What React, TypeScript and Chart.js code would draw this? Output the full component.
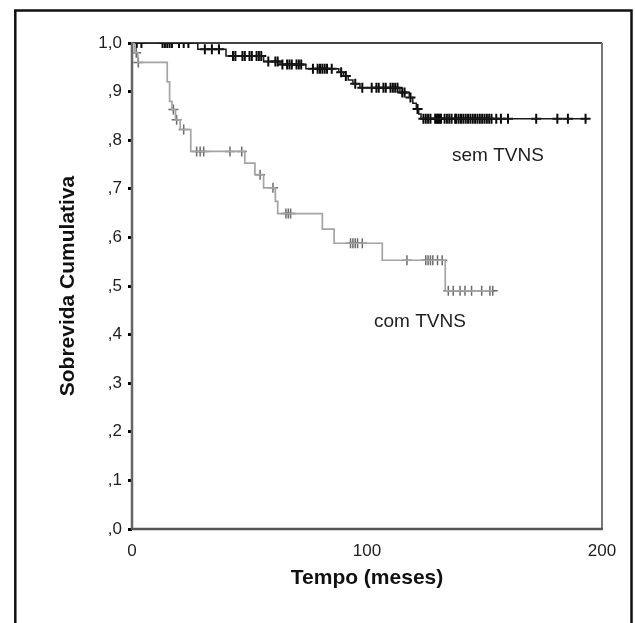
import React, { useEffect, useRef } from "react";
import { Chart, registerables } from "chart.js";

Chart.register(...registerables);

// sem TVNS: event times (months) and cumulative survival after each event
const semEventTimes = [0, 28, 40, 56, 63, 74, 88, 90, 92, 94, 97, 114, 118, 119.5, 121, 122, 123];
const semSurvival = [1.0, 0.987, 0.973, 0.962, 0.956, 0.947, 0.94, 0.932, 0.924, 0.916, 0.908, 0.898, 0.888, 0.876, 0.864, 0.854, 0.844];
const semCensored = [
  2, 4, 13, 14, 15, 16, 17, 20, 22, 24, 31, 34, 37, 43, 44, 47, 48, 50, 51, 53, 54, 55,
  58, 61, 62, 64, 66, 67, 68, 70, 71, 72, 77, 79, 80, 81, 82, 83, 85, 89, 91, 95, 98,
  102, 104, 105, 107, 108, 110, 111, 112, 113, 115, 116, 118.5, 121.5, 124, 125, 126,
  127, 129, 129.5, 130, 130.5, 131, 131.5, 133, 134, 135, 136, 137.5, 138, 139, 140,
  141, 142, 143, 144, 145, 146, 147, 148, 149, 150, 151, 152, 153, 155, 157, 160, 172,
  181, 185.5, 193,
];

// com TVNS
const comEventTimes = [0, 1, 2.5, 15, 16, 17, 18.5, 20.5, 25, 48, 52.3, 56, 61, 62, 81, 86, 106.5, 133.3];
const comSurvival = [1.0, 0.98, 0.96, 0.92, 0.88, 0.863, 0.842, 0.822, 0.777, 0.753, 0.729, 0.702, 0.674, 0.649, 0.617, 0.588, 0.553, 0.49];
const comCensored = [
  1.8, 2.7, 17.6, 19, 22, 27.5, 29, 30.5, 41.7, 46.7, 54.5, 60, 65.5, 66.5, 67.5, 93, 94,
  95, 96, 98, 117, 125, 126, 127, 128, 130, 132, 134.6, 136.7, 139.6, 141.7, 144.5, 148.8,
  152.3, 153.5,
];

const yTickLabels = [",0", ",1", ",2", ",3", ",4", ",5", ",6", ",7", ",8", ",9", "1,0"];
const xTickValues = [0, 100, 200];

const FONT = '"Liberation Sans", Arial, sans-serif';

function survivalAt(times: number[], surv: number[], t: number) {
  let s = surv[0];
  for (let i = 0; i < times.length; i++) if (times[i] <= t) s = surv[i];
  return s;
}

function lineData(times: number[], surv: number[], censored: number[]) {
  const pts = times.map((t, i) => ({ x: t, y: surv[i] }));
  const last = censored[censored.length - 1];
  if (last > times[times.length - 1]) pts.push({ x: last, y: survivalAt(times, surv, last) });
  return pts;
}

function censorData(times: number[], surv: number[], censored: number[]) {
  return censored.map((t) => ({ x: t, y: survivalAt(times, surv, t) }));
}

const framePlugin = {
  id: "frame",
  beforeDraw(chart: any) {
    const ctx = chart.ctx;
    ctx.save();
    ctx.fillStyle = "#ffffff";
    ctx.fillRect(0, 0, chart.width, chart.height);
    ctx.strokeStyle = "#111111";
    ctx.lineWidth = 2.5;
    ctx.strokeRect(15.3, 10.5, 616.2, 650);
    ctx.restore();
  },
  beforeDatasetsDraw(chart: any) {
    const { left, top, right, bottom } = chart.chartArea;
    const ctx = chart.ctx;
    ctx.save();
    const seg = (x1: number, y1: number, x2: number, y2: number, c: string, w: number) => {
      ctx.strokeStyle = c;
      ctx.lineWidth = w;
      ctx.beginPath();
      ctx.moveTo(x1, y1);
      ctx.lineTo(x2, y2);
      ctx.stroke();
    };
    seg(left, top, right, top, "#444444", 2);
    seg(right, top, right, bottom, "#777777", 2);
    seg(left, top - 1, left, bottom + 1, "#666666", 2.5);
    seg(left - 1, bottom, right + 1, bottom, "#555555", 2.5);
    ctx.restore();
  },
  afterDraw(chart: any) {
    const ctx = chart.ctx;
    const xs = chart.scales.x;
    const ys = chart.scales.y;
    ctx.save();
    ctx.fillStyle = "#1e1e1e";
    ctx.font = `19px ${FONT}`;
    ctx.textAlign = "center";
    ctx.textBaseline = "middle";
    ctx.fillText("sem TVNS", xs.getPixelForValue(155.7), ys.getPixelForValue(0.768));
    ctx.fillText("com TVNS", xs.getPixelForValue(122.5), ys.getPixelForValue(0.426));
    ctx.restore();
  },
};

export default function App() {
  const ref = useRef<HTMLCanvasElement>(null);

  useEffect(() => {
    const canvas = ref.current;
    if (!canvas) return;
    const chart = new Chart(canvas, {
      type: "scatter",
      data: {
        datasets: [
          {
            label: "com TVNS",
            data: lineData(comEventTimes, comSurvival, comCensored),
            showLine: true,
            stepped: true,
            borderColor: "#a4a4a4",
            borderWidth: 1.7,
            pointRadius: 0,
            fill: false,
          } as any,
          {
            label: "com TVNS censored",
            data: censorData(comEventTimes, comSurvival, comCensored),
            showLine: false,
            pointStyle: "cross",
            pointRadius: 5,
            borderColor: "#6a6a6a",
            pointBorderWidth: 1.5,
          } as any,
          {
            label: "sem TVNS",
            data: lineData(semEventTimes, semSurvival, semCensored),
            showLine: true,
            stepped: true,
            borderColor: "#1a1a1a",
            borderWidth: 1.5,
            pointRadius: 0,
            fill: false,
          } as any,
          {
            label: "sem TVNS censored",
            data: censorData(semEventTimes, semSurvival, semCensored),
            showLine: false,
            pointStyle: "cross",
            pointRadius: 5,
            borderColor: "#0a0a0a",
            pointBorderWidth: 2,
          } as any,
        ],
      },
      options: {
        responsive: false,
        animation: false,
        devicePixelRatio: 1,
        layout: { padding: { left: 56, top: 43, right: 33, bottom: 32 } },
        plugins: {
          legend: { display: false },
          tooltip: { enabled: false },
        },
        scales: {
          x: {
            type: "linear",
            min: 0,
            max: 200,
            afterFit: (s: any) => {
              s.height = 62;
            },
            afterBuildTicks: (s: any) => {
              s.ticks = xTickValues.map((v) => ({ value: v }));
            },
            grid: { display: false, drawTicks: false },
            border: { display: false },
            ticks: {
              padding: 12,
              color: "#1e1e1e",
              font: { family: FONT, size: 17 },
              maxRotation: 0,
              callback: (v: any) => String(v),
            },
            title: {
              display: true,
              text: "Tempo (meses)",
              color: "#111111",
              font: { family: FONT, size: 21, weight: "bold" },
              padding: { top: 0, bottom: 0 },
            },
          },
          y: {
            type: "linear",
            min: 0,
            max: 1,
            afterFit: (s: any) => {
              s.width = 76;
            },
            grid: {
              display: true,
              drawOnChartArea: false,
              drawTicks: true,
              tickLength: 4,
              tickColor: "#000000",
              tickWidth: 3,
              lineWidth: 3,
            },
            border: { display: false },
            ticks: {
              stepSize: 0.1,
              padding: 6,
              color: "#1e1e1e",
              font: { family: FONT, size: 17 },
              callback: (v: any) => yTickLabels[Math.round(Number(v) * 10)],
            },
            title: {
              display: true,
              text: "Sobrevida Cumulativa",
              color: "#111111",
              font: { family: FONT, size: 21, weight: "bold" },
              padding: { top: 0, bottom: 0 },
            },
          },
        },
      },
      plugins: [framePlugin],
    } as any);
    return () => chart.destroy();
  }, []);

  return (
    <div style={{ position: "absolute", left: 0, top: 0, width: 635, height: 623, background: "#fff" }}>
      <canvas ref={ref} width={635} height={623} style={{ display: "block", width: 635, height: 623 }} />
    </div>
  );
}
